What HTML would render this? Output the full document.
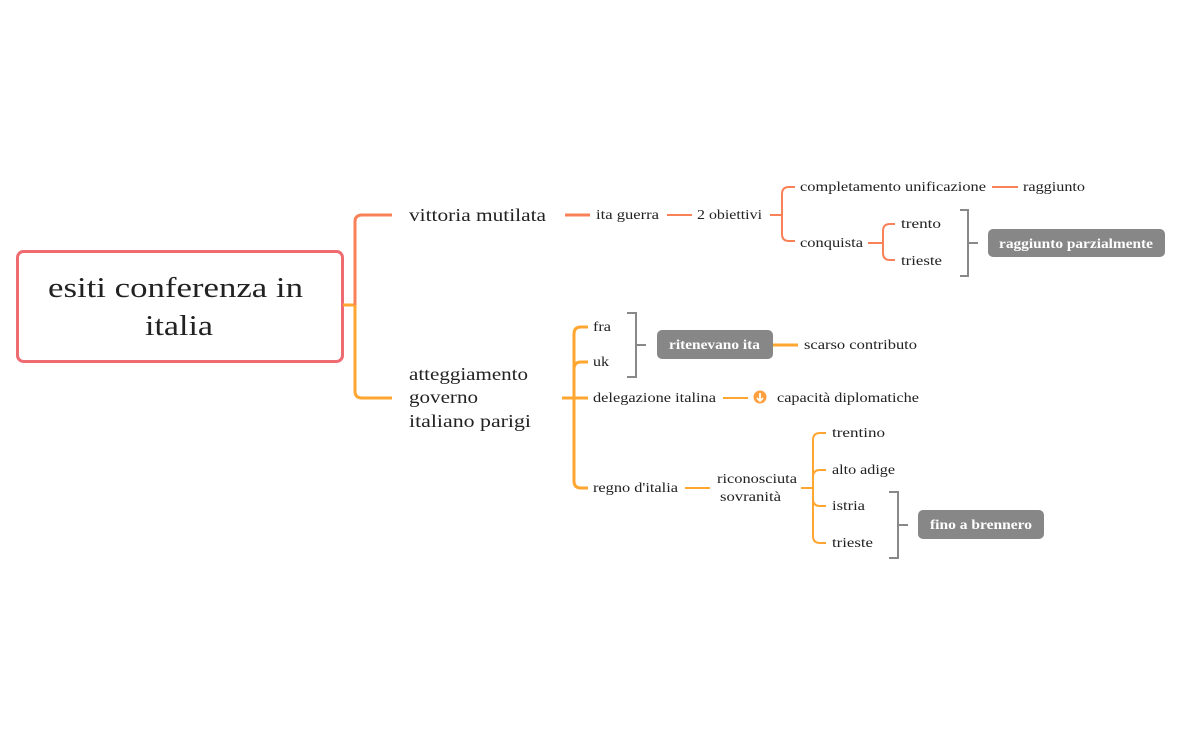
<!DOCTYPE html>
<html><head><meta charset="utf-8"><style>
html,body{margin:0;padding:0;background:#fff;}
svg{display:block;}
text{font-family:"Liberation Serif","DejaVu Serif",serif;fill:#222;}
.s{font-size:14px;}
.m{font-size:18px;}
.b{font-size:14px;fill:#fff;font-weight:bold;}
</style></head><body>
<svg width="1181" height="731" viewBox="0 0 1181 731" xmlns="http://www.w3.org/2000/svg">
<rect x="17.5" y="251.5" width="325" height="110" rx="6" fill="#fff" stroke="#ef6b72" stroke-width="3"/>
<text x="48" y="297" font-size="28" textLength="255" lengthAdjust="spacingAndGlyphs">esiti conferenza in</text>
<text x="145" y="335" font-size="28" textLength="68" lengthAdjust="spacingAndGlyphs">italia</text>

<g fill="none" stroke-width="3" stroke-linecap="butt">
<path d="M343 305 H355" stroke="#ffa630"/>
<path d="M392 215 H362 Q355 215 355 222 V305" stroke="#f98157"/>
<path d="M355 305 V391 Q355 398 362 398 H392" stroke="#ffa630"/>
<path d="M565 215 H590" stroke="#f98157"/>
<path d="M798 345 H773" stroke="#ffa630"/>
<path d="M562 398 H588" stroke="#ffa630"/>
<path d="M588 327 H581 Q574 327 574 334 V481 Q574 488 581 488 H588" stroke="#ffa630"/>
<path d="M574 369 Q574 362 581 362 H588" stroke="#ffa630"/>
</g>
<g fill="none" stroke-width="2">
<path d="M667 215 H692" stroke="#f98157"/>
<path d="M770 215 H782" stroke="#f98157"/>
<path d="M795 187 H789 Q782 187 782 194 V234 Q782 241 789 241 H795" stroke="#f98157"/>
<path d="M992 187 H1018" stroke="#f98157"/>
<path d="M868 243 H883" stroke="#f98157"/>
<path d="M895 224 H890 Q883 224 883 231 V253 Q883 260 890 260 H895" stroke="#f98157"/>
<path d="M723 398 H748" stroke="#ffa630"/>
<path d="M685 488 H710" stroke="#ffa630"/>
<path d="M801 488 H813" stroke="#ffa630"/>
<path d="M826 433 H820 Q813 433 813 440 V536 Q813 543 820 543 H826" stroke="#ffa630"/>
<path d="M813 477 Q813 470 820 470 H826 M813 499 Q813 506 820 506 H826" stroke="#ffa630"/>
<path d="M960 210 H968 V276 H960 M968 243 H978" stroke="#888"/>
<path d="M627 313 H636 V377 H627 M636 345 H646" stroke="#888"/>
<path d="M889 492 H898 V558 H889 M898 525 H908" stroke="#888"/>
</g>
<circle cx="760" cy="397" r="6.5" fill="#ffa040"/>
<path d="M760 393 V400 M757 398 L760 401 L763 398" stroke="#fff" stroke-width="1.8" fill="none"/>

<rect x="988" y="229" width="177" height="28" rx="5" fill="#878787"/>
<text x="999" y="248" class="b" textLength="154" lengthAdjust="spacingAndGlyphs">raggiunto parzialmente</text>
<rect x="657" y="330" width="116" height="29" rx="5" fill="#878787"/>
<text x="669" y="349" class="b" textLength="91" lengthAdjust="spacingAndGlyphs">ritenevano ita</text>
<rect x="918" y="510" width="126" height="29" rx="5" fill="#878787"/>
<text x="930" y="529" class="b" textLength="102" lengthAdjust="spacingAndGlyphs">fino a brennero</text>

<text x="409" y="221" class="m" textLength="137" lengthAdjust="spacingAndGlyphs">vittoria mutilata</text>
<text x="409" y="380" class="m" textLength="119" lengthAdjust="spacingAndGlyphs">atteggiamento</text>
<text x="409" y="403" class="m" textLength="69" lengthAdjust="spacingAndGlyphs">governo</text>
<text x="409" y="427" class="m" textLength="122" lengthAdjust="spacingAndGlyphs">italiano  parigi</text>

<text x="596" y="219" class="s" textLength="63" lengthAdjust="spacingAndGlyphs">ita guerra</text>
<text x="697" y="219" class="s" textLength="65" lengthAdjust="spacingAndGlyphs">2 obiettivi</text>
<text x="800" y="191" class="s" textLength="186" lengthAdjust="spacingAndGlyphs">completamento unificazione</text>
<text x="1023" y="191" class="s" textLength="62" lengthAdjust="spacingAndGlyphs">raggiunto</text>
<text x="800" y="247" class="s" textLength="63" lengthAdjust="spacingAndGlyphs">conquista</text>
<text x="901" y="228" class="s" textLength="40" lengthAdjust="spacingAndGlyphs">trento</text>
<text x="901" y="265" class="s" textLength="41" lengthAdjust="spacingAndGlyphs">trieste</text>

<text x="593" y="331" class="s" textLength="18" lengthAdjust="spacingAndGlyphs">fra</text>
<text x="593" y="366" class="s" textLength="16" lengthAdjust="spacingAndGlyphs">uk</text>
<text x="593" y="402" class="s" textLength="123" lengthAdjust="spacingAndGlyphs">delegazione italina</text>
<text x="593" y="492" class="s" textLength="85" lengthAdjust="spacingAndGlyphs">regno d'italia</text>
<text x="804" y="349" class="s" textLength="113" lengthAdjust="spacingAndGlyphs">scarso contributo</text>
<text x="777" y="402" class="s" textLength="142" lengthAdjust="spacingAndGlyphs">capacità diplomatiche</text>
<text x="717" y="483" class="s" textLength="80" lengthAdjust="spacingAndGlyphs">riconosciuta</text>
<text x="720" y="501" class="s" textLength="61" lengthAdjust="spacingAndGlyphs">sovranità</text>
<text x="832" y="437" class="s" textLength="53" lengthAdjust="spacingAndGlyphs">trentino</text>
<text x="832" y="474" class="s" textLength="63" lengthAdjust="spacingAndGlyphs">alto adige</text>
<text x="832" y="510" class="s" textLength="33" lengthAdjust="spacingAndGlyphs">istria</text>
<text x="832" y="547" class="s" textLength="41" lengthAdjust="spacingAndGlyphs">trieste</text>
</svg>
</body></html>
